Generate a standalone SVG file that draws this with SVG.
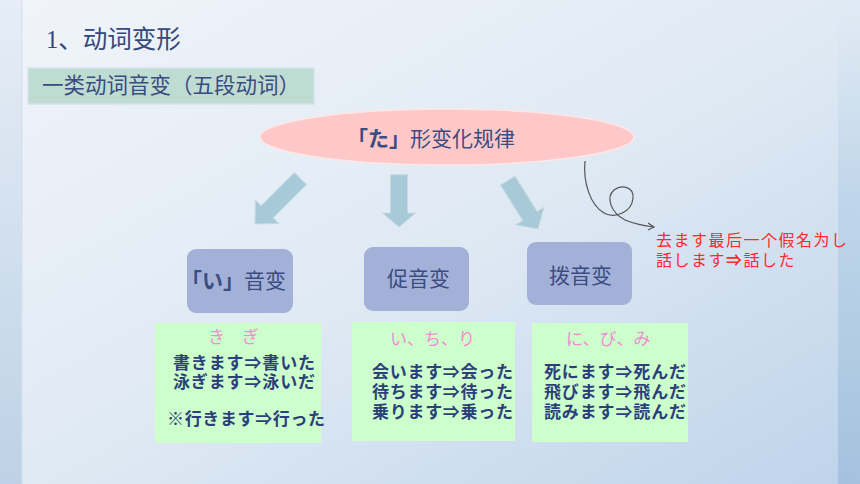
<svg xmlns="http://www.w3.org/2000/svg" width="860" height="484" viewBox="0 0 860 484">
<defs>
<linearGradient id="bg" x1="0" y1="0" x2="1" y2="1">
<stop offset="0" stop-color="#f1f4fa"/>
<stop offset="0.5" stop-color="#e0eaf4"/>
<stop offset="1" stop-color="#bed3ea"/>
</linearGradient>
<linearGradient id="lstrip" x1="0" y1="0" x2="0" y2="1">
<stop offset="0" stop-color="#e6edf6"/>
<stop offset="1" stop-color="#bdd2e6"/>
</linearGradient>
<linearGradient id="rstrip" x1="0" y1="0" x2="0" y2="1">
<stop offset="0" stop-color="#d2e2f0" stop-opacity="0"/>
<stop offset="0.4" stop-color="#c0d6ea"/>
<stop offset="1" stop-color="#a4c2de"/>
</linearGradient>
<path id="arr" d="M-8.5,-60 L8.5,-60 L8.5,-16 L16.5,-16 L0,0 L-16.5,-16 L-8.5,-16 Z"/>
</defs>
<style>
.cn{font-family:"Noto Sans CJK SC","Noto Sans CJK JP",sans-serif}
.jp{font-family:"Noto Sans CJK JP","Noto Sans CJK SC",sans-serif}
.title{fill:#34487c;font-size:24.5px}
.sub{fill:#3a4c80;font-size:21.5px}
.node{fill:#a3b1d8}
.ntext{fill:#3c4c80;font-size:21px}
.arrow{fill:#a8cad8;stroke:#c2dae3;stroke-width:1}
.gbox{fill:#ccffcc}
.hdr{fill:#f08cd2;font-size:17px}
.ex{fill:#2d3f7a;font-size:17px;font-weight:bold}
.red{fill:#ff2a2a;font-size:16px;letter-spacing:1.5px}
</style>
<rect width="860" height="484" fill="url(#bg)"/>
<rect x="0" y="0" width="22" height="484" fill="url(#lstrip)"/>
<line x1="22" y1="0" x2="22" y2="484" stroke="#d4dfec" stroke-width="1"/>
<rect x="838" y="0" width="22" height="484" fill="url(#rstrip)"/>

<g id="title">
<text class="cn title" x="46" y="48"><tspan font-family="Liberation Serif, serif">1</tspan>、动词变形</text>
</g>
<g id="subtitle">
<rect x="28" y="68" width="286" height="36" fill="#bfdcd3" stroke="#d2e5ea" stroke-width="1.5"/>
<text class="cn sub" x="42" y="93">一类动词音变（五段动词）</text>
</g>

<g id="rule">
<ellipse cx="447" cy="137" rx="187" ry="28" fill="#ffc8c8" stroke="#ffe6e6" stroke-width="1.5"/>
<text class="jp" x="347" y="146" font-size="21" fill="#3c4c80"><tspan font-weight="bold">「た」</tspan>形变化规律</text>
</g>

<g id="connectors">
<use href="#arr" class="arrow" transform="translate(255,224) rotate(45) scale(1,1.07)"/>
<use href="#arr" class="arrow" transform="translate(399,227) scale(1,0.87)"/>
<use href="#arr" class="arrow" transform="translate(538,229) rotate(-32) scale(1,0.95)"/>
<path d="M585,161 C583,182 590,205 604,213 C615,219 632,212 633,198 C634,187 622,184 614,190 C606,197 610,212 625,220 C635,224 645,226 654,227" fill="none" stroke="#555" stroke-width="1.2"/>
<path d="M648,223 L654,227 L648,230" fill="none" stroke="#555" stroke-width="1.2"/>
</g>

<g id="node-i">
<rect class="node" x="187" y="249" width="106" height="64" rx="9"/>
<text class="jp ntext" x="181" y="288"><tspan font-weight="bold">「い」</tspan>音变</text>
</g>
<g id="node-soku">
<rect class="node" x="364" y="247" width="105" height="64" rx="9"/>
<text class="cn ntext" x="418.5" y="286" text-anchor="middle">促音变</text>
</g>
<g id="node-hatsu">
<rect class="node" x="527" y="242" width="105" height="63" rx="9"/>
<text class="cn ntext" x="580.5" y="283" text-anchor="middle">拨音变</text>
</g>

<g id="note">
<text class="jp red" x="656" y="246">去ます最后一个假名为し</text>
<text class="jp red" x="656" y="266">話します<tspan font-weight="bold">⇒</tspan>話した</text>
</g>

<g id="ex-i">
<rect class="gbox" x="155" y="323" width="166" height="120"/>
<text class="jp hdr" x="208" y="343">き　ぎ</text>
<text class="jp ex" x="173" y="369" textLength="142">書きます⇒書いた</text>
<text class="jp ex" x="173" y="388" textLength="142">泳ぎます⇒泳いだ</text>
<text class="jp ex" x="167" y="425" textLength="158" fill="#1ca444">※行きます⇒行った</text>
</g>
<g id="ex-soku">
<rect class="gbox" x="352" y="322" width="163" height="119"/>
<text class="jp hdr" x="390" y="345" font-size="18">い、ち、り</text>
<text class="jp ex" x="372" y="378" textLength="141">会います⇒会った</text>
<text class="jp ex" x="372" y="398" textLength="141">待ちます⇒待った</text>
<text class="jp ex" x="372" y="418" textLength="141">乗ります⇒乗った</text>
</g>
<g id="ex-hatsu">
<rect class="gbox" x="532" y="323" width="156" height="119"/>
<text class="jp hdr" x="566" y="345">に、び、み</text>
<text class="jp ex" x="544" y="378" textLength="142">死にます⇒死んだ</text>
<text class="jp ex" x="544" y="398" textLength="142">飛びます⇒飛んだ</text>
<text class="jp ex" x="544" y="418" textLength="142">読みます⇒読んだ</text>
</g>
</svg>
